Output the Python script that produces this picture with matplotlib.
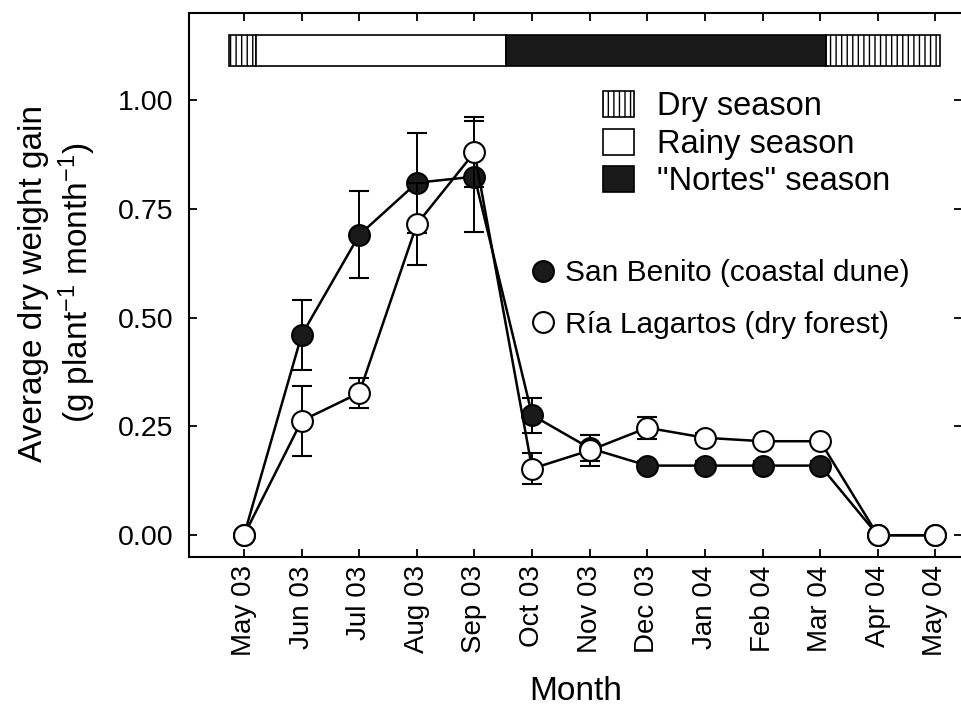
import matplotlib
matplotlib.use('Agg')
import matplotlib.pyplot as plt
from matplotlib.patches import Rectangle, Patch
from matplotlib.lines import Line2D
import numpy as np

plt.rcParams['font.family'] = ['Liberation Sans', 'DejaVu Sans']
plt.rcParams['mathtext.default'] = 'regular'
plt.rcParams['hatch.linewidth'] = 1.0

months = ['May 03', 'Jun 03', 'Jul 03', 'Aug 03', 'Sep 03', 'Oct 03', 'Nov 03',
          'Dec 03', 'Jan 04', 'Feb 04', 'Mar 04', 'Apr 04', 'May 04']

# average dry weight gain (g plant-1 month-1) and error
san_benito = [0.0, 0.46, 0.69, 0.81, 0.824, 0.276, 0.20, 0.16, 0.16, 0.16, 0.16, 0.0, 0.0]
san_benito_err = [0.0, 0.08, 0.10, 0.115, 0.128, 0.04, 0.03, 0.01, 0.01, 0.01, 0.01, 0.0, 0.0]
ria_lagartos = [0.0, 0.263, 0.327, 0.715, 0.88, 0.153, 0.195, 0.247, 0.224, 0.216, 0.216, 0.0, 0.0]
ria_lagartos_err = [0.0, 0.08, 0.035, 0.094, 0.08, 0.036, 0.036, 0.025, 0.012, 0.008, 0.008, 0.0, 0.0]

# seasons along the top band: (start, end) in month index
season_names = ['Dry season', 'Rainy season', '"Nortes" season']
season_spans = [[(-0.26, 0.2), (10.1, 12.08)], [(0.2, 4.55)], [(4.55, 10.1)]]

x = np.arange(len(months))

fig = plt.figure(figsize=(9.62, 7.19), dpi=100)
ax = fig.add_axes([189/962, 1-557/719, 773.5/962, 544/719])

ax.errorbar(x, san_benito, yerr=san_benito_err, color='black', lw=1.8,
            marker='o', ms=15, mfc='#1a1a1a', mec='black', mew=1.5,
            capsize=7, elinewidth=1.4, capthick=1.7, zorder=3)
ax.errorbar(x, ria_lagartos, yerr=ria_lagartos_err, color='black', lw=1.8,
            marker='o', ms=15, mfc='white', mec='black', mew=1.5,
            capsize=7, elinewidth=1.4, capthick=1.7, zorder=4)

# season band
styles = [dict(facecolor='white', hatch='|||'), dict(facecolor='white'),
          dict(facecolor='#1a1a1a')]
for spans, st in zip(season_spans, styles):
    for a, b in spans:
        ax.add_patch(Rectangle((a, 1.078), b - a, 0.071, edgecolor='black',
                               lw=1.2, zorder=2, **st))

ax.set_xlim(-0.955, 12.47)
ax.set_ylim(-0.05, 1.2)
ax.set_xticks(x)
ax.set_xticklabels(months, rotation=90, fontsize=20)
ax.set_yticks([0, 0.25, 0.5, 0.75, 1.0])
ax.set_yticklabels(['0.00', '0.25', '0.50', '0.75', '1.00'], fontsize=20.5)
ax.tick_params(direction='in', length=6, width=1.3, top=True, right=True)
ax.tick_params(axis='y', pad=11)
ax.tick_params(axis='x', pad=6)
for s in ax.spines.values():
    s.set_linewidth(1.5)

ax.set_xlabel('Month', fontsize=24, labelpad=14)
fig.text(58/962, 1-283/719, 'Average dry weight gain\n(g plant$^{-1}$ month$^{-1}$)',
         rotation=90, ha='center', va='center', multialignment='center',
         fontsize=24, linespacing=1.25)

season_handles = [Patch(facecolor='white', edgecolor='black', hatch='|||', lw=1.2),
                  Patch(facecolor='white', edgecolor='black', lw=1.2),
                  Patch(facecolor='#1a1a1a', edgecolor='black', lw=1.2)]
leg1 = ax.legend(season_handles, season_names, loc='upper left',
                 bbox_to_anchor=(603/962, 1-91/719), bbox_transform=fig.transFigure,
                 frameon=False, fontsize=23.5, borderpad=0, borderaxespad=0,
                 handlelength=0.95, handleheight=0.85, handletextpad=0.7,
                 labelspacing=0.19)
ax.add_artist(leg1)

series_handles = [Line2D([], [], ls='none', marker='o', ms=15, mfc='#1a1a1a',
                         mec='black', mew=1.5),
                  Line2D([], [], ls='none', marker='o', ms=15, mfc='white',
                         mec='black', mew=1.5)]
ax.legend(series_handles, ['San Benito (coastal dune)', 'Ría Lagartos (dry forest)'],
          loc='upper left', bbox_to_anchor=(528/962, 1-259/719),
          bbox_transform=fig.transFigure, frameon=False, fontsize=21.5,
          borderpad=0, borderaxespad=0, handlelength=1.0, handletextpad=0.25,
          labelspacing=0.8, numpoints=1)

fig.savefig('out.png', dpi=100)
